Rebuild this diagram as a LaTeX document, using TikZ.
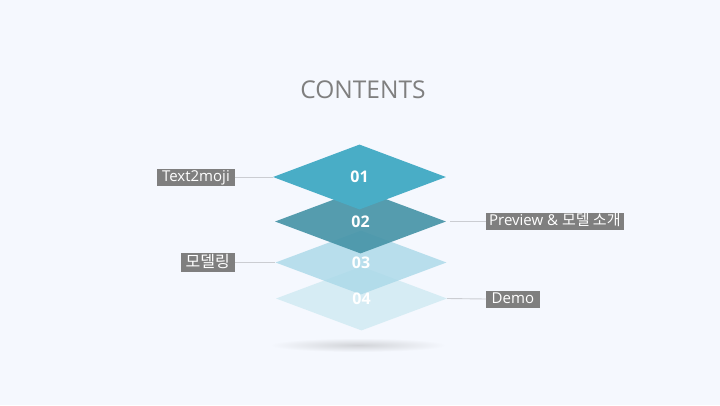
\documentclass[tikz,border=0pt]{standalone}
\usepackage{fontspec}
\setmainfont{Open Sans}
\newfontfamily\krfont{Noto Sans CJK KR}
\usetikzlibrary{shapes.geometric}
\definecolor{bgblue}{HTML}{F5F8FE}
\definecolor{tealA}{HTML}{49ADC6}
\definecolor{tealB}{HTML}{4895A8}
\definecolor{tealC}{HTML}{A9D8E8}
\definecolor{tealD}{HTML}{D6ECF4}
\definecolor{taggray}{HTML}{7F7F7F}
\definecolor{linegray}{HTML}{CBCDD2}
\begin{document}
\begin{tikzpicture}[x=1pt, y=-1pt,
    layer/.style={diamond, minimum width=171pt, minimum height=64pt, inner sep=0pt},
    num/.style={text=white, font=\bfseries\fontsize{16}{16}\selectfont},
    tag/.style={fill=taggray, text=white, inner xsep=5pt, inner ysep=1pt,
      text height=11.5pt, text depth=3.5pt, font=\fontsize{15}{15}\selectfont},
    link/.style={draw=linegray, line width=0.9pt}]
    \fill[bgblue] (0, 0) rectangle (720, 405);
    \useasboundingbox (0, 0) rectangle (720, 405);
    % shadow under the stack
    \shade[inner color=gray!30!bgblue, outer color=bgblue] (358, 345) ellipse (88 and 7);
    \node (title) at (363, 90) {\color{taggray}\fontsize{24.5}{24.5}\selectfont CONTENTS};
    \node[layer, fill=tealD] (d4) at (361.5, 298.5) {};
    \node[layer, fill=tealC, fill opacity=0.8] (d3) at (361, 262.5) {};
    \node[layer, fill=tealB, fill opacity=0.92] (d2) at (360.5, 221.5) {};
    \node[layer, fill=tealA, minimum height=65pt, minimum width=173pt] (d1) at (359.5, 177) {};
    \node[num] (n4) at (d4) {04};
    \node[num] (n3) at (d3) {03};
    \node[num] (n2) at (d2) {02};
    \node[num] (n1) at (d1) {01};
    \node[tag, anchor=east] (t1) at (235, 177) {Text2moji};
    \node[tag, anchor=east, text height=13pt, text depth=4pt,
      font=\krfont\fontsize{16}{16}\selectfont] (t3) at (235, 262.5) {모델링};
    \node[tag, anchor=west, inner xsep=3pt] (t2) at (486, 221.5) {Preview \& {\krfont 모델 소개}};
    \node[tag, anchor=west, inner xsep=5.5pt] (t4) at (486, 299) {Demo};
    \draw[link] (t1.east) -- (d1.west);
    \draw[link] (t3.east) -- (d3.west);
    \draw[link] (d2.east) ++(4, 0) -- (t2.west);
    \draw[link] (d4.east) -- (t4.west);
\end{tikzpicture}
\end{document}
